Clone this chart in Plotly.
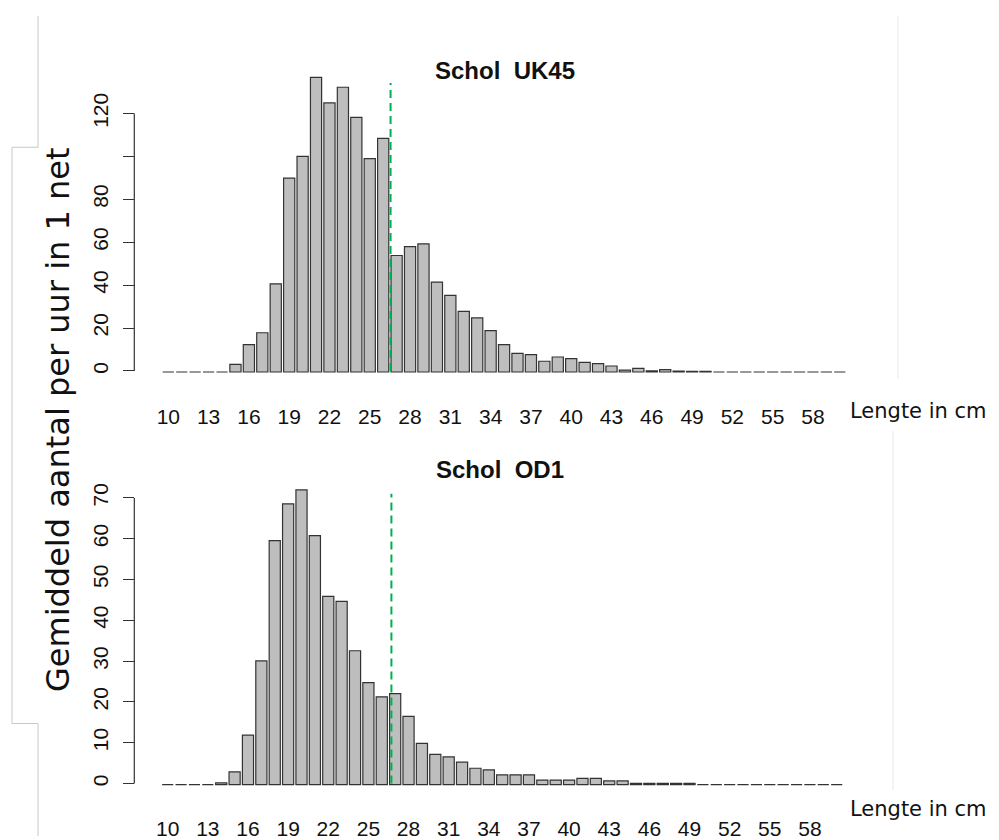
import plotly.graph_objects as go

W, H = 999, 840

lengths = list(range(10, 61))
tick_vals = list(range(10, 59, 3))
tick_labels = [str(v) for v in tick_vals]

uk45 = [0, 0, 0, 0, 0, 3.6, 12.8, 18.3, 41.1, 90.4, 100.5, 137.3, 125.4, 132.7, 118.7,
        99.4, 108.9, 54.3, 58.4, 59.7, 41.9, 35.7, 28.3, 25.2, 19.3, 12.8, 8.7, 8.1,
        5.0, 7.0, 6.2, 4.5, 3.9, 2.8, 0.9, 1.7, 0.5, 1.1, 0.4, 0.3, 0.3,
        0, 0, 0, 0, 0, 0, 0, 0, 0, 0]
od1 = [0, 0, 0, 0, 0.4, 3.1, 12.1, 30.3, 59.8, 68.8, 72.2, 61.0, 46.1, 44.9, 32.8,
       25.0, 21.5, 22.3, 16.7, 10.1, 7.4, 6.8, 5.5, 4.0, 3.6, 2.4, 2.4, 2.4,
       1.1, 1.1, 1.1, 1.5, 1.5, 0.9, 0.9, 0.3, 0.3, 0.3, 0.3, 0.3,
       0, 0, 0, 0, 0, 0, 0, 0, 0, 0, 0]

uk45_yticks = [0, 20, 40, 60, 80, 100, 120]
uk45_ylabels = ["0", "20", "40", "60", "80", "", "120"]
od1_yticks = [0, 10, 20, 30, 40, 50, 60, 70]
od1_ylabels = [str(v) for v in od1_yticks]

mls_top = (26.55, 134.2)
mls_bot = (26.72, 71.0)

title_top = "Schol\u00a0\u00a0UK45"
title_bot = "Schol\u00a0\u00a0OD1"
xlab = "Lengte in cm"
ylab = "Gemiddeld aantal per uur in 1 net"


def px(x):
    return x / W


def py(y):
    return 1 - y / H


BAR_FILL = "#bebebe"
BAR_LINE = "#333333"
TICK_FONT = dict(family="Liberation Sans, Arial, sans-serif", size=21, color="#111")
YTICK_FONT = dict(family="Liberation Sans, Arial, sans-serif", size=21, color="#111")

fig = go.Figure()
fig.add_trace(go.Bar(x=lengths, y=uk45, base=-0.5, marker=dict(color=BAR_FILL, line=dict(color=BAR_LINE, width=1.2)),
                     xaxis="x", yaxis="y", showlegend=False))
fig.add_trace(go.Bar(x=lengths, y=od1, base=-0.25, marker=dict(color=BAR_FILL, line=dict(color=BAR_LINE, width=1.2)),
                     xaxis="x2", yaxis="y2", showlegend=False))

common_x = dict(showline=False, ticks="", showgrid=False, zeroline=False, tickvals=tick_vals,
                ticktext=tick_labels, tickfont=TICK_FONT)
common_y = dict(showline=False, ticks="outside", ticklen=11, tickcolor="#333", tickwidth=1.2,
                showgrid=False, zeroline=False, tickangle=-90, tickfont=YTICK_FONT,
                anchor="free", position=px(134.3), ticklabelstandoff=7)

fig.update_layout(
    width=W, height=H, margin=dict(l=0, r=0, t=0, b=0),
    paper_bgcolor="white", plot_bgcolor="white", bargap=0.167,
    xaxis=dict(domain=[px(150), px(860)], range=[8.637, 61.504], anchor="y",
               ticklabelstandoff=24, **common_x),
    yaxis=dict(domain=[py(380), py(70)], range=[-3.386, 140.4], tickvals=uk45_yticks,
               ticktext=uk45_ylabels, **common_y),
    xaxis2=dict(domain=[px(150), px(860)], range=[8.677, 61.742], anchor="y2",
                ticklabelstandoff=23, **common_x),
    yaxis2=dict(domain=[py(795), py(485)], range=[-1.878, 73.73], tickvals=od1_yticks,
                ticktext=od1_ylabels, **common_y),
)

shapes = []
shapes.append(dict(type="line", xref="paper", yref="y", x0=px(134.3), x1=px(134.3), y0=0, y1=120,
                   line=dict(color="#333", width=1.2)))
shapes.append(dict(type="line", xref="paper", yref="y2", x0=px(134.3), x1=px(134.3), y0=0, y1=70,
                   line=dict(color="#333", width=1.2)))
shapes.append(dict(type="line", xref="x", yref="y", x0=mls_top[0], x1=mls_top[0], y0=0, y1=mls_top[1],
                   line=dict(color="#00b050", width=2, dash="8px,5px")))
shapes.append(dict(type="line", xref="x2", yref="y2", x0=mls_bot[0], x1=mls_bot[0], y0=0, y1=mls_bot[1],
                   line=dict(color="#00b050", width=2, dash="8px,5px")))
frame = [((38, 16), (38, 148)), ((38, 148), (12, 148)), ((12, 148), (12, 727)),
         ((12, 727), (38, 727)), ((38, 727), (38, 840))]
for (a, b) in frame:
    shapes.append(dict(type="line", xref="paper", yref="paper", x0=px(a[0]), y0=py(a[1]),
                       x1=px(b[0]), y1=py(b[1]), line=dict(color="#c8c8c8", width=1)))
for (a, b) in [((898, 16), (898, 380)), ((893, 433), (893, 794))]:
    shapes.append(dict(type="line", xref="paper", yref="paper", x0=px(a[0]), y0=py(a[1]),
                       x1=px(b[0]), y1=py(b[1]), line=dict(color="#e8e8e8", width=1)))
fig.update_layout(shapes=shapes)

ann = []
ann.append(dict(text="<b>" + title_top + "</b>", x=px(505), y=py(55), xref="paper", yref="paper",
                showarrow=False, font=dict(family="Liberation Sans, Arial", size=24, color="#111")))
ann.append(dict(text="<b>" + title_bot + "</b>", x=px(500), y=py(472), xref="paper", yref="paper",
                showarrow=False, font=dict(family="Liberation Sans, Arial", size=24, color="#111")))
for yy in (413, 827):
    ann.append(dict(text=xlab, x=px(848), y=py(yy), xref="paper", yref="paper", xanchor="left",
                    showarrow=False, font=dict(family="DejaVu Sans, Verdana", size=21, color="#111")))
ann.append(dict(text=ylab, x=px(37), y=py(422), xref="paper", yref="paper", textangle=-90,
                showarrow=False, font=dict(family="DejaVu Sans, Verdana", size=32, color="#111")))
fig.update_layout(annotations=ann)

fig.write_html("out.html", config={"displayModeBar": False},
               post_script="document.body.style.margin='0';document.body.style.overflow='hidden';")
